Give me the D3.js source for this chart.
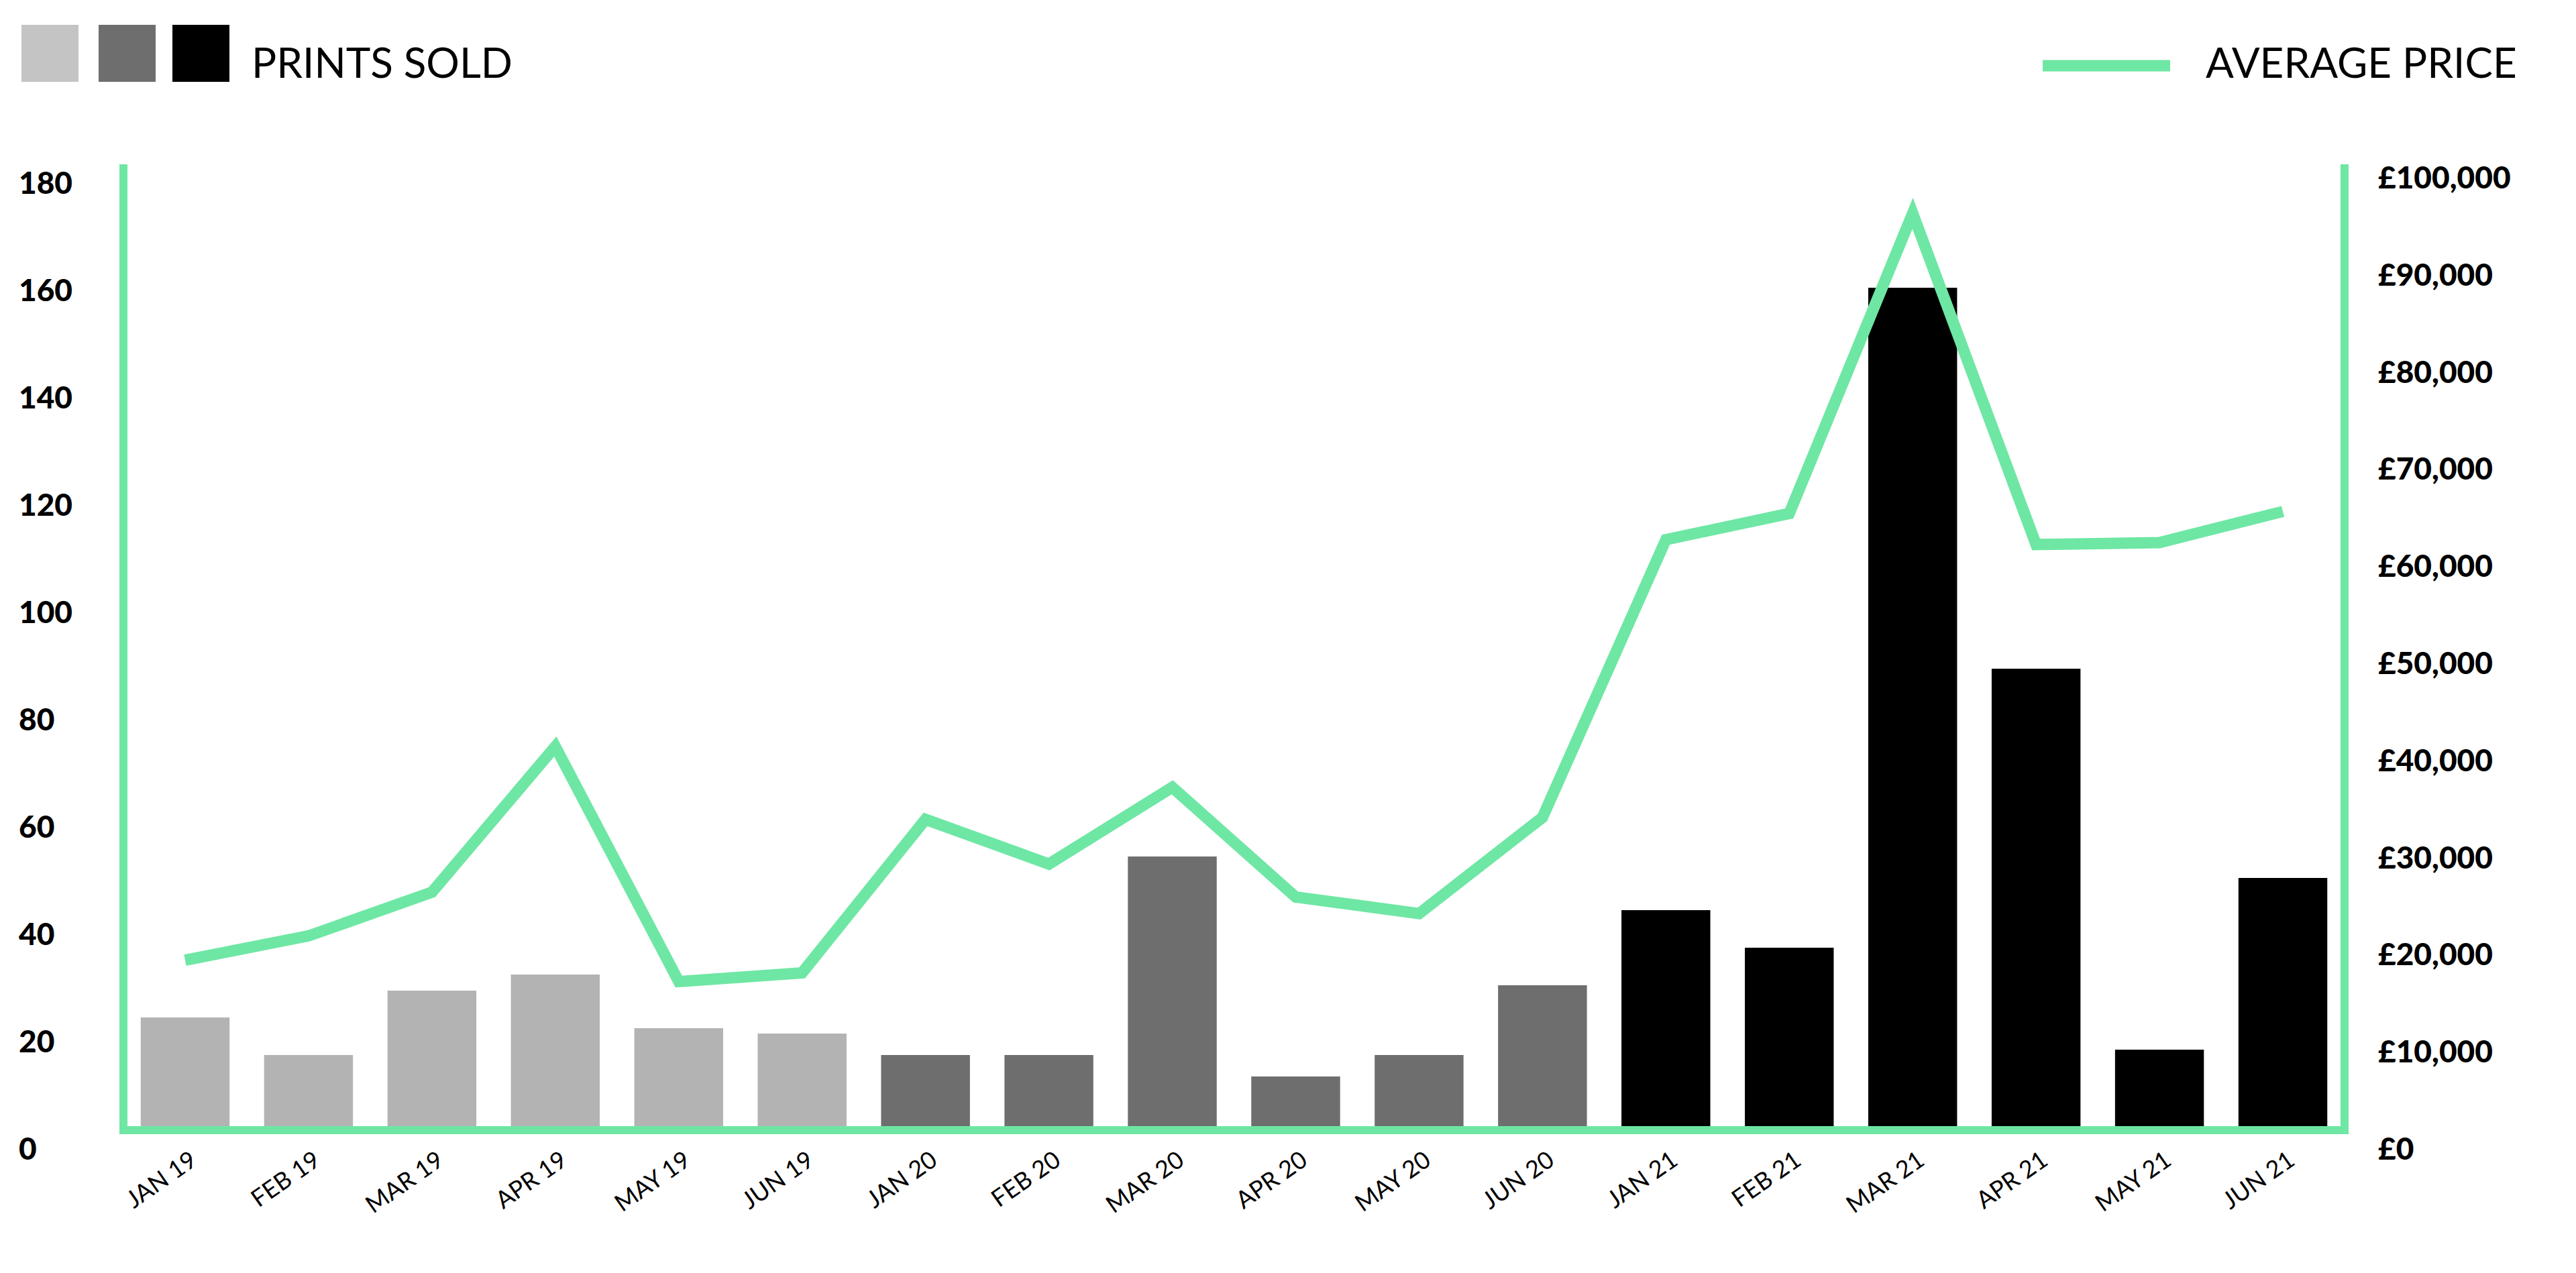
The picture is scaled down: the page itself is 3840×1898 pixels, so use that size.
<!DOCTYPE html>
<html><head><meta charset="utf-8">
<script src="https://cdn.jsdelivr.net/npm/d3@7"></script>
<style>body{margin:0;background:#fff;}</style>
</head><body><div id="chart"></div>
<script>
// data
let months = ["JAN 19","FEB 19","MAR 19","APR 19","MAY 19","JUN 19","JAN 20","FEB 20","MAR 20","APR 20","MAY 20","JUN 20","JAN 21","FEB 21","MAR 21","APR 21","MAY 21","JUN 21"];
let printsSold = [21,14,26,29,19,18,14,14,51,10,14,27,41,34,157,86,15,47];
let avgPrice = [17500,20000,24500,39500,15300,16200,32000,27400,35300,24000,22300,32200,60800,63500,94400,60300,60500,63700];
let yearGroup = [0,0,0,0,0,0,1,1,1,1,1,1,2,2,2,2,2,2];
let leftTicks = [0,20,40,60,80,100,120,140,160,180];
let rightTicks = [0,10000,20000,30000,40000,50000,60000,70000,80000,90000,100000];

let W = 3840, H = 1898;
let green = "#6ee7a4", shades = ["#b3b3b3","#6e6e6e","#000000"];
let font = "Lato, 'Open Sans', sans-serif";
let m = {left: 184, right: 3495, top: 245, bottom: 1685};

let svg = d3.select("#chart").append("svg").attr("width", W).attr("height", H);

let x = d3.scaleBand().domain(months).range([m.left, m.right]).paddingInner(0.28).paddingOuter(0.14);
let yL = d3.scaleLinear().domain([0,180]).range([m.bottom, m.top]);
let yR = d3.scaleLinear().domain([0,100000]).range([m.bottom, m.top - 8]);

// bars
svg.selectAll(".bar").data(months).join("rect")
    .attr("x", d => x(d))
    .attr("y", (d,i) => yL(printsSold[i]))
    .attr("width", x.bandwidth())
    .attr("height", (d,i) => m.bottom - yL(printsSold[i]))
    .attr("fill", (d,i) => shades[yearGroup[i]]);

// axis frame lines
svg.append("line").attr("x1", m.left).attr("x2", m.left).attr("y1", m.top).attr("y2", m.bottom)
    .attr("stroke", green).attr("stroke-width", 12);
svg.append("line").attr("x1", m.right).attr("x2", m.right).attr("y1", m.top).attr("y2", m.bottom)
    .attr("stroke", green).attr("stroke-width", 12);
svg.append("line").attr("x1", m.left - 6).attr("x2", m.right + 6).attr("y1", m.bottom).attr("y2", m.bottom)
    .attr("stroke", green).attr("stroke-width", 12);

// price line
let line = d3.line().x((d,i) => x(months[i]) + x.bandwidth()/2).y(d => yR(d));
svg.append("path").datum(avgPrice).attr("d", line)
    .attr("fill", "none").attr("stroke", green).attr("stroke-width", 17).attr("stroke-linejoin", "miter");

// left ticks
svg.selectAll(".lt").data(leftTicks).join("text")
    .attr("x", 28).attr("y", d => yL(d) + 44)
    .attr("font-family", font).attr("font-weight", 900).attr("font-size", 46)
    .text(d => d);

// right ticks
svg.selectAll(".rt").data(rightTicks).join("text")
    .attr("x", 3545).attr("y", d => yR(d) + 44)
    .attr("font-family", font).attr("font-weight", 900).attr("font-size", 46)
    .text(d => "£" + d3.format(",")(d));

// x labels
svg.selectAll(".xl").data(months).join("text")
    .attr("transform", d => "translate(" + (x(d) + x.bandwidth()/2 + 20) + "," + (m.bottom + 50) + ") rotate(-35)")
    .attr("text-anchor", "end")
    .attr("font-family", font).attr("font-size", 36)
    .text(d => d);

// legend
let lg = [[32,"#c4c4c4"],[147,"#6e6e6e"],[257,"#000"]];
svg.selectAll(".lg").data(lg).join("rect")
    .attr("x", d => d[0]).attr("y", 37).attr("width", 85).attr("height", 85).attr("fill", d => d[1]);
svg.append("text").attr("x", 375).attr("y", 116).attr("font-family", font).attr("font-size", 62).text("PRINTS SOLD");
svg.append("line").attr("x1", 3045).attr("x2", 3235).attr("y1", 98).attr("y2", 98)
    .attr("stroke", green).attr("stroke-width", 17);
svg.append("text").attr("x", 3288).attr("y", 116).attr("font-family", font).attr("font-size", 62).text("AVERAGE PRICE");
</script>
</body></html>
